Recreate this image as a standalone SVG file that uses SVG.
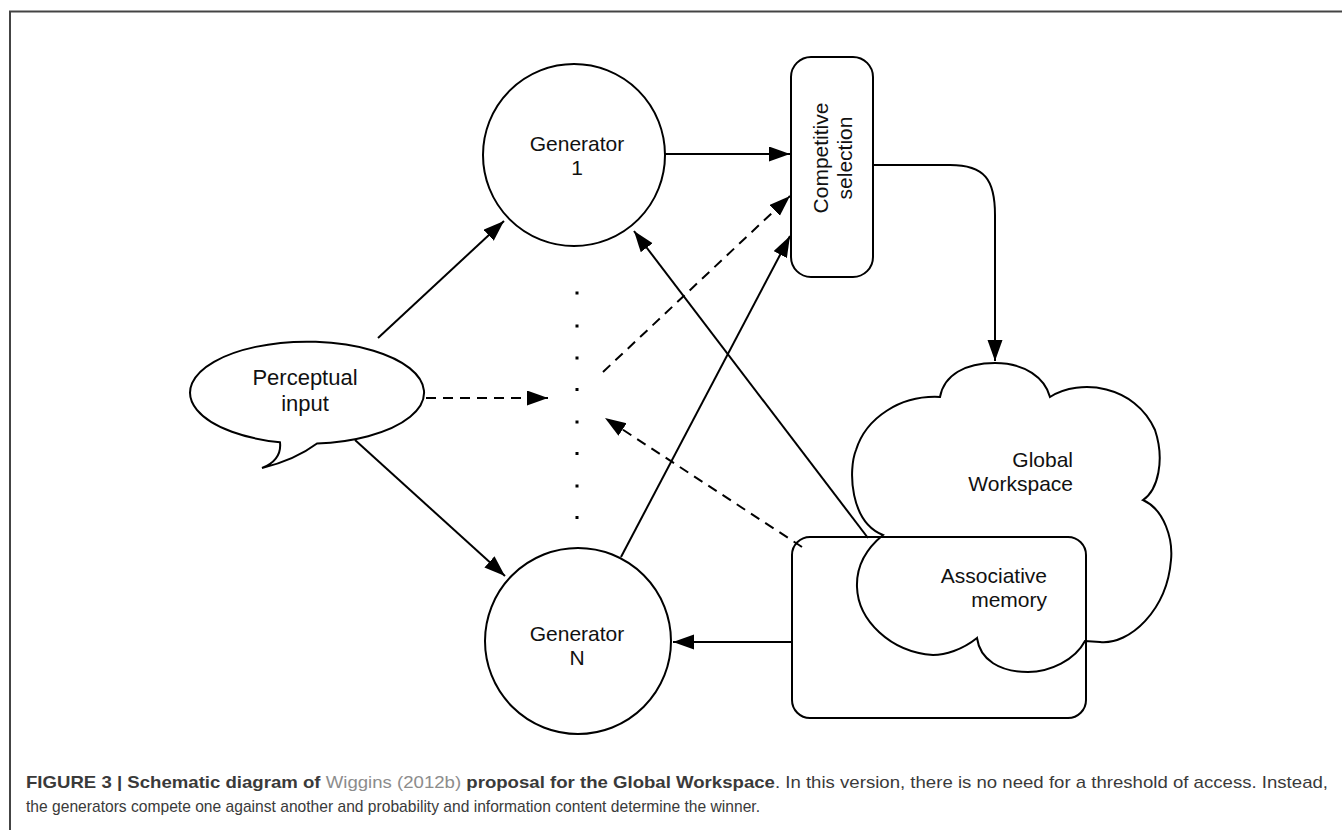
<svg xmlns="http://www.w3.org/2000/svg" width="1342" height="830" viewBox="0 0 1342 830">
<defs>
<marker id="ah" markerUnits="userSpaceOnUse" markerWidth="22" markerHeight="16" refX="21" refY="7.5" orient="auto">
<path d="M0,0 L21,7.5 L0,15 z" fill="#000"/>
</marker>
<style>
.ln{fill:none;stroke:#000;stroke-width:2}
.dash{stroke-dasharray:10 7}
.nd{fill:#fff;stroke:#000;stroke-width:2}
.lbl{font-family:"Liberation Sans",Arial,sans-serif;font-size:21px;fill:#111}
.cap{font-family:"Liberation Sans",Arial,sans-serif;font-size:17px;fill:#3a3a3a}
.dot{fill:#000}
</style>
</defs>
<rect width="1342" height="830" fill="#fff"/>
<path d="M10,830 V11.5 H1342" fill="none" stroke="#444" stroke-width="2"/>

<g id="global-workspace">
<path class="nd" d="M883,535 C850,522 848,470 856,450 C866,418 900,395 940,397 C944,375 965,363 995,363 C1025,363 1045,378 1050,397 C1080,378 1135,385 1155,430 C1165,460 1158,490 1143,500 C1165,510 1173,540 1171,560 C1167,610 1130,645 1100,642 L1085,641 C1075,660 1050,672 1028,672 C1000,672 980,660 977,638 C962,650 945,655 933,655 C890,652 858,620 857,587 C856,560 872,544 883,535 Z"/>
<text class="lbl" x="1073" y="467" text-anchor="end">Global</text>
<text class="lbl" x="1073" y="491" text-anchor="end">Workspace</text>
</g>

<g id="associative-memory">
<rect x="792" y="537" width="294" height="181" rx="18" fill="none" stroke="#000" stroke-width="2"/>
<text class="lbl" x="1047" y="583" text-anchor="end">Associative</text>
<text class="lbl" x="1047" y="607" text-anchor="end">memory</text>
</g>

<g id="generator-1">
<circle class="nd" cx="574" cy="155" r="91"/>
<text class="lbl" x="577" y="151" text-anchor="middle">Generator</text>
<text class="lbl" x="577" y="175" text-anchor="middle">1</text>
</g>

<g id="generator-n">
<circle class="nd" cx="578" cy="641" r="93"/>
<text class="lbl" x="577" y="641" text-anchor="middle">Generator</text>
<text class="lbl" x="577" y="665" text-anchor="middle">N</text>
</g>

<g id="competitive-selection">
<rect class="nd" x="791" y="57" width="82" height="220" rx="20"/>
<text class="lbl" text-anchor="middle" transform="translate(828,158) rotate(-90)">Competitive</text>
<text class="lbl" text-anchor="middle" transform="translate(852,158) rotate(-90)">selection</text>
</g>

<g id="perceptual-input">
<path class="nd" d="M317,443.5 A117,51 0 1 0 280,442.3 Q282,460 262,468 Q295,460 317,443.5 Z"/>
<text class="lbl" x="305" y="385" text-anchor="middle" style="font-size:22px">Perceptual</text>
<text class="lbl" x="305" y="411" text-anchor="middle" style="font-size:22px">input</text>
</g>

<g id="ellipsis-dots">
<rect class="dot" x="575.5" y="291.5" width="3" height="3"/>
<rect class="dot" x="575.5" y="324.5" width="3" height="3"/>
<rect class="dot" x="575.5" y="356.5" width="3" height="3"/>
<rect class="dot" x="575.5" y="388" width="3" height="3"/>
<rect class="dot" x="575.5" y="420.5" width="3" height="3"/>
<rect class="dot" x="575.5" y="452" width="3" height="3"/>
<rect class="dot" x="575.5" y="484.5" width="3" height="3"/>
<rect class="dot" x="575.5" y="516" width="3" height="3"/>
</g>

<g id="connectors">
<line class="ln" x1="665" y1="154" x2="790" y2="154" marker-end="url(#ah)"/>
<line class="ln dash" x1="603" y1="372" x2="790" y2="196" marker-end="url(#ah)"/>
<line class="ln" x1="621" y1="557" x2="790" y2="236" marker-end="url(#ah)"/>
<path class="ln" d="M873,165 L950,165 C985,165 995,180 995,215 L995,361" marker-end="url(#ah)"/>
<line class="ln" x1="378" y1="338" x2="504" y2="221" marker-end="url(#ah)"/>
<line class="ln" x1="355" y1="440" x2="505" y2="576" marker-end="url(#ah)"/>
<line class="ln dash" x1="426" y1="398" x2="548" y2="398" marker-end="url(#ah)"/>
<line class="ln" x1="868" y1="538" x2="634" y2="231" marker-end="url(#ah)"/>
<line class="ln dash" x1="802" y1="547" x2="605" y2="418" marker-end="url(#ah)"/>
<line class="ln" x1="792" y1="642" x2="673" y2="642" marker-end="url(#ah)"/>
</g>

<g id="caption">
<text class="cap" x="26" y="788" textLength="1302" lengthAdjust="spacingAndGlyphs"><tspan font-weight="bold">FIGURE 3 | Schematic diagram of </tspan><tspan fill="#8c8c8c">Wiggins (2012b)</tspan><tspan font-weight="bold"> proposal for the Global Workspace</tspan>. In this version, there is no need for a threshold of access. Instead,</text>
<text class="cap" x="26" y="812" textLength="734" lengthAdjust="spacingAndGlyphs">the generators compete one against another and probability and information content determine the winner.</text>
</g>
</svg>
